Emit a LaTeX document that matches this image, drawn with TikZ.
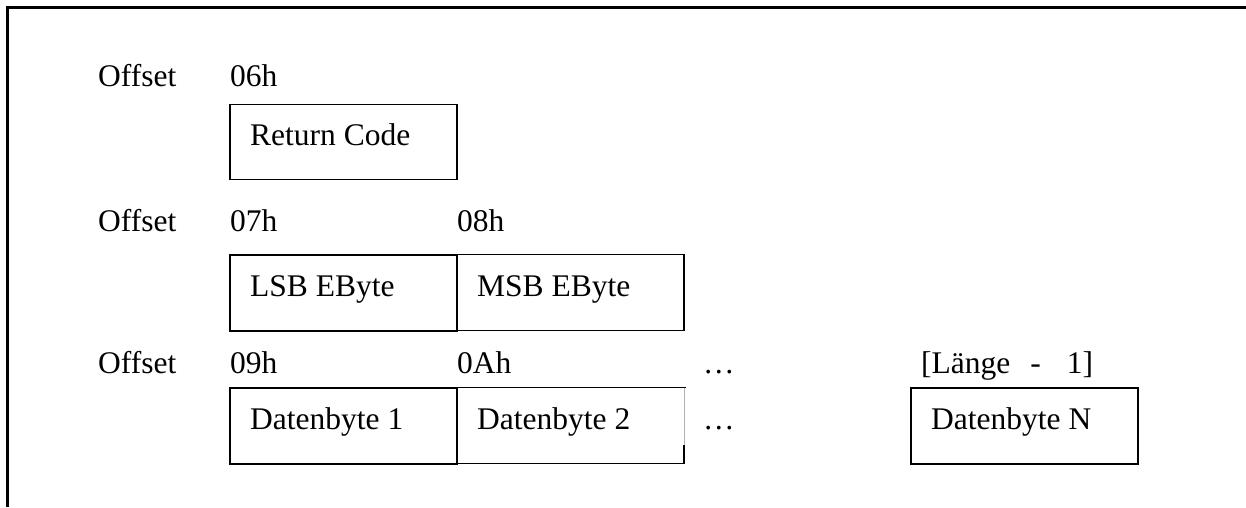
\documentclass[tikz,border=0pt]{standalone}
\usepackage{fontspec}
\setmainfont{Liberation Serif}
\begin{document}
\begin{tikzpicture}[x=1pt,y=-1pt,
  lbl/.style={anchor=base west,inner sep=0pt,font=\fontsize{31.5}{36}\selectfont},
  cell/.style={draw,line width=1.5pt,anchor=north west,minimum width=227pt,minimum height=75pt,inner sep=0pt,outer sep=0pt},
  cellnd/.style={anchor=north west,minimum width=227pt,minimum height=76pt,inner sep=0pt,outer sep=0pt},
  frame/.style={line width=2.6pt}]
\useasboundingbox (0,0) rectangle (1246,507);
% outer frame
\coordinate (ftl) at (7.5,7.5);
\coordinate (ftr) at (1246,7.5);
\coordinate (fbl) at (7.5,507);
\draw[frame] (ftr) -- (ftl) -- (fbl);
% row 1
\node[lbl] (off1) at (98,86) {Offset};
\node[lbl] (o06) at (230,86) {06h};
\node[cell] (rc) at (230,104.5) {};
\node[lbl] (trc) at (250,145) {Return Code};
% row 2
\node[lbl] (off2) at (98,231) {Offset};
\node[lbl] (o07) at (230,231) {07h};
\node[lbl] (o08) at (457,231) {08h};
\node[cell,minimum height=76pt] (lsb) at (230,255) {};
\node[cell,minimum height=76pt] (msb) at (457,254.5) {};
\node[lbl] (tlsb) at (250,296) {LSB EByte};
\node[lbl] (tmsb) at (477,296) {MSB EByte};
% row 3
\node[lbl] (off3) at (98,373) {Offset};
\node[lbl] (o09) at (230,373) {09h};
\node[lbl] (o0a) at (457,373) {0Ah};
\node[lbl] (dots1) at (703,373) {…};
\node[lbl] (olen) at (921,373) {[Länge\hspace{20pt}-\hspace{26pt}1]};
\node[cell,minimum height=76pt] (d1) at (230,388) {};
\node[cellnd] (d2) at (457,387.5) {};
\draw[line width=1.5pt] (d2.south east) -- (d2.south west) -- (d2.north west) -- ([xshift=2pt]d2.north east);
\coordinate (d2m) at (684,445);
\draw[gray!60,line width=0.8pt] (d2.north east) -- (d2m);
\draw[line width=1.5pt] (d2m) -- (d2.south east);
\node[lbl] (dots2) at (703,429) {…};
\node[cell,minimum height=76pt] (dn) at (911,388) {};
\node[lbl] (td1) at (250,429) {Datenbyte 1};
\node[lbl] (td2) at (477,429) {Datenbyte 2};
\node[lbl] (tdn) at (931,429) {Datenbyte N};
\end{tikzpicture}
\end{document}
